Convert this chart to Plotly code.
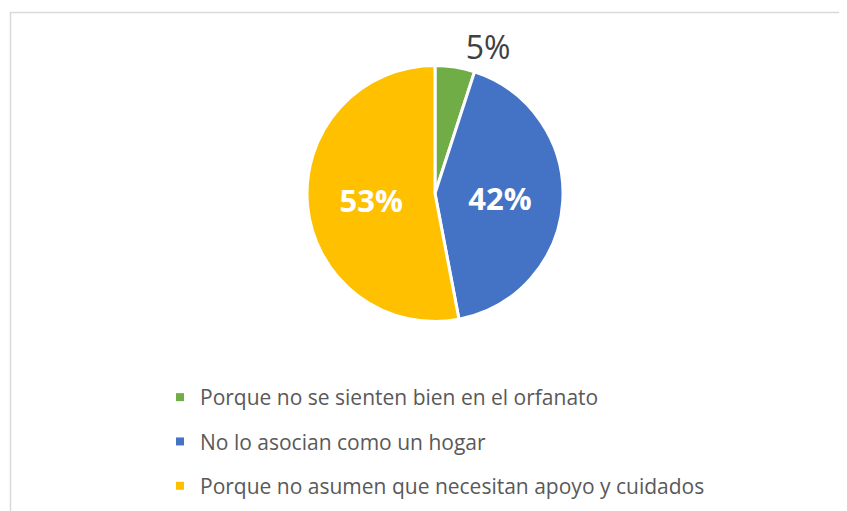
import plotly.graph_objects as go

categories = [
    "Porque no se sienten bien en el orfanato",
    "No lo asocian como un hogar",
    "Porque no asumen que necesitan apoyo y cuidados",
]
values = [5, 42, 53]
colors = ["#70AD47", "#4472C4", "#FFC000"]

# the page body adds an 8px margin, so the figure is drawn 8px in from the window
OFF = 8
W, H = 847 - OFF, 511 - OFF


def px_x(p):
    return (p - OFF) / W


def px_y(p):
    return 1 - (p - OFF) / H


fig = go.Figure()
fig.add_trace(go.Pie(
    labels=categories,
    values=values,
    sort=False,
    direction="clockwise",
    rotation=0,
    marker=dict(colors=colors, line=dict(color="white", width=3)),
    textinfo="percent",
    texttemplate="%{percent:.0%}",
    textposition=["outside", "inside", "inside"],
    insidetextfont=dict(color="white", size=31, family="Open Sans", weight="bold"),
    outsidetextfont=dict(color="#404040", size=32, family="Open Sans"),
    showlegend=False,
    domain=dict(x=[px_x(307), px_x(563)], y=[px_y(322), px_y(65)]),
    hoverinfo="label+percent",
))
for cat, col in zip(categories, colors):
    fig.add_trace(go.Scatter(
        x=[None], y=[None], mode="markers",
        marker=dict(symbol="square", size=8, color=col),
        name=cat, legendgroup=cat, showlegend=True,
    ))

fig.update_layout(
    width=W, height=H,
    margin=dict(l=0, r=0, t=0, b=0),
    paper_bgcolor="white", plot_bgcolor="white",
    xaxis=dict(visible=False), yaxis=dict(visible=False),
    legend=dict(
        x=px_x(160), y=px_y(377), xanchor="left", yanchor="top",
        font=dict(family="Open Sans", size=21, color="#595959"),
        tracegroupgap=14, bgcolor="rgba(0,0,0,0)",
    ),
    shapes=[dict(
        type="rect", xref="paper", yref="paper",
        x0=px_x(10.5), x1=1.05, y0=-0.05, y1=px_y(12.5),
        line=dict(color="#D9D9D9", width=1.5),
    )],
)

fig.write_html("out.html")
